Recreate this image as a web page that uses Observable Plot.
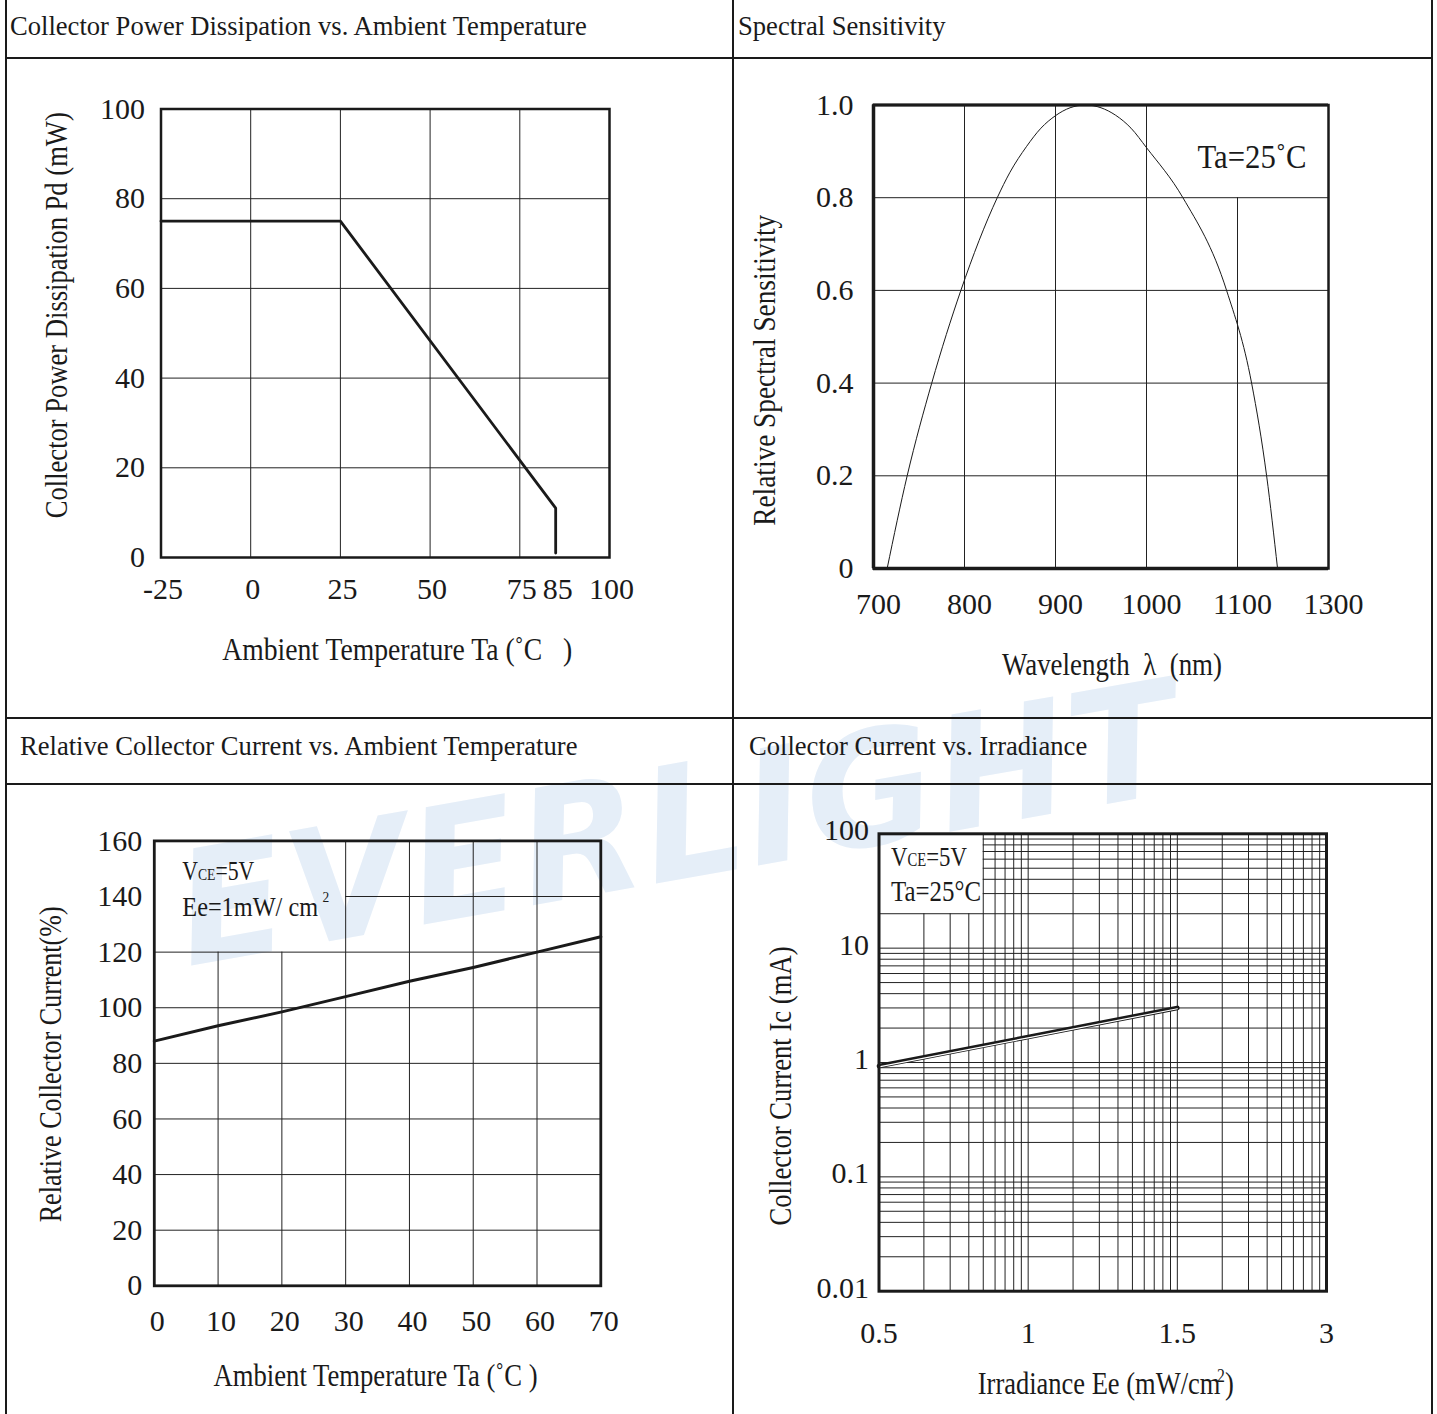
<!DOCTYPE html>
<html>
<head>
<meta charset="utf-8">
<script src="https://cdn.jsdelivr.net/npm/d3@7"></script>
<script src="https://cdn.jsdelivr.net/npm/@observablehq/plot@0.6"></script>
<style>
  html, body { margin: 0; padding: 0; background: #fff; }
  #page { position: relative; width: 1437px; height: 1414px; overflow: hidden;
          font-family: "Liberation Serif", "Times New Roman", serif; color: #1a1a1a; }
  .hl { position: absolute; height: 2px; background: #1a1a1a; }
  .vl { position: absolute; width: 2px; background: #1a1a1a; }
  .title { position: absolute; font-size: 26.6px; line-height: 1; white-space: nowrap; }
  .chart { position: absolute; }
  #wm { position: absolute; left: 0; top: 0; }
</style>
</head>
<body>
<div id="page">
  <svg id="wm" width="1437" height="1414">
    <text x="188" y="966" transform="rotate(-10 188 966)" font-family="DejaVu Sans" font-weight="bold"
          font-style="italic" font-size="158" letter-spacing="3" fill="#e5eef8">EVERLIGHT</text>
  </svg>
  <div class="vl" style="left:5px;top:0;height:1414px"></div>
  <div class="vl" style="left:732px;top:0;height:1414px"></div>
  <div class="vl" style="left:1431px;top:0;height:1414px"></div>
  <div class="hl" style="left:5px;top:57px;width:1428px"></div>
  <div class="hl" style="left:5px;top:717px;width:1428px"></div>
  <div class="hl" style="left:5px;top:783px;width:1428px"></div>
  <div class="title" style="left:10px;top:12.5px">Collector Power Dissipation vs. Ambient Temperature</div>
  <div class="title" style="left:738px;top:12.5px">Spectral Sensitivity</div>
  <div class="title" style="left:20px;top:732.5px">Relative Collector Current vs. Ambient Temperature</div>
  <div class="title" style="left:749px;top:732.5px">Collector Current vs. Irradiance</div>
  <div class="chart" id="c1" style="left:8px;top:60px"></div>
  <div class="chart" id="c2" style="left:734px;top:60px"></div>
  <div class="chart" id="c3" style="left:8px;top:786px"></div>
  <div class="chart" id="c4" style="left:734px;top:786px"></div>
</div>
<script>
// ---------- Chart 1: Collector Power Dissipation vs. Ambient Temperature ----------
const pdTemp = [-25, 25, 85, 85];
const pdPower = [75, 75, 11, 1];
const pdXTicks = [-25, 0, 25, 50, 75, 85, 100];
const pdXTickLabels = ["-25", "0", "25", "50", "75", "85", "100"];
const pdXGrid = [0, 25, 50, 75];
const pdYTicks = [0, 20, 40, 60, 80, 100];
const pdYTickLabels = ["0", "20", "40", "60", "80", "100"];
const pdYGrid = [20, 40, 60, 80];
const pdXTitle = "Ambient Temperature Ta (\u02DAC\u00A0\u00A0\u00A0)";
const pdYTitle = "Collector Power Dissipation Pd (mW)";

// ---------- Chart 2: Spectral Sensitivity ----------
const specWavelength = [715, 737, 764, 796, 836, 850, 868, 884, 900, 916, 933, 950, 966, 983, 1000, 1040, 1088, 1115.5, 1132, 1144];
const specSensitivity = [0, 0.2, 0.4, 0.6, 0.8, 0.855, 0.91, 0.95, 0.977, 0.994, 1.0, 0.994, 0.978, 0.95, 0.908, 0.8, 0.6, 0.4, 0.2, 0];
const specXTicks = [700, 800, 900, 1000, 1100, 1200];
const specXTickLabels = ["700", "800", "900", "1000", "1100", "1300"];
const specYTicks = [0, 0.2, 0.4, 0.6, 0.8, 1.0];
const specYTickLabels = ["0", "0.2", "0.4", "0.6", "0.8", "1.0"];
const specXGrid = [800, 900, 1000, 1100];
const specYGrid = [0.2, 0.4, 0.6, 0.8];
const specNoteCorner = {x: 1100, y: 0.8};
const specNote = "Ta=25\u02DAC";
const specXTitle = "Wavelength\u00A0\u00A0\u03BB\u00A0\u00A0(nm)";
const specYTitle = "Relative Spectral Sensitivity";

// ---------- Chart 3: Relative Collector Current vs. Ambient Temperature ----------
const rcTemp = [0, 10, 20, 30, 40, 50, 60, 70];
const rcCurrent = [88, 93.5, 98.5, 104, 109.5, 114.5, 120, 125.5];
const rcXTicks = [0, 10, 20, 30, 40, 50, 60, 70];
const rcYTicks = [0, 20, 40, 60, 80, 100, 120, 140, 160];
const rcXGrid = [10, 20, 30, 40, 50, 60];
const rcYGrid = [20, 40, 60, 80, 100, 120, 140];
const rcNoteCorner = {x: 30, y: 120};
const rcNote1 = "VCE=5V";
const rcNote2 = "Ee=1mW/ cm2";
const rcXTitle = "Ambient Temperature Ta (\u02DAC\u00A0)";
const rcYTitle = "Relative Collector Current(%)";

// ---------- Chart 4: Collector Current vs. Irradiance ----------
const irrTickValues = [0.5, 1, 1.5, 3];
const irrTickLabels = ["0.5", "1", "1.5", "3"];
const irrEe = [0.5, 1.0, 1.5];
const irrIc = [0.93, 1.67, 3.0];
const icTicks = [0.01, 0.1, 1, 10, 100];
const icTickLabels = ["0.01", "0.1", "1", "10", "100"];
const irrNoteCorner = {x: 5, y: 20};   // in the chart's log-grid units
const irrNote1 = "VCE=5V";
const irrNote2 = "Ta=25\u00B0C";
const irrXTitle = "Irradiance Ee (mW/cm2)";
const irrYTitle = "Collector Current Ic (mA)";

// ---------- shared ----------
const SERIF = '"Liberation Serif", "Times New Roman", serif';
const INK = "#1a1a1a";
const GRID = "#222";

function labelFor(ticks, labels) {
  return d => labels[ticks.findIndex(t => Math.abs(t - d) < 1e-9 * Math.max(1, Math.abs(t)))];
}
function findText(svg, str) {
  return Array.from(svg.querySelectorAll("text")).find(t => t.textContent === str);
}
function condense(el, len) {
  if (!el) return;
  el.setAttribute("textLength", len);
  el.setAttribute("lengthAdjust", "spacingAndGlyphs");
}
function rich(svg, str, parts) {
  const t = findText(svg, str);
  if (!t) return null;
  t.textContent = "";
  for (const p of parts) {
    const s = document.createElementNS("http://www.w3.org/2000/svg", "tspan");
    s.textContent = p.text;
    if (p.size) s.setAttribute("font-size", p.size);
    if (p.dx) s.setAttribute("dx", p.dx);
    if (p.dy) s.setAttribute("dy", p.dy);
    t.appendChild(s);
  }
  return t;
}
function titles(xTitle, yTitle, o) {
  return [
    Plot.text([xTitle], {text: d => d, frameAnchor: "bottom", textAnchor: "middle", lineAnchor: "middle",
      dx: o.xdx, dy: o.xdy, fontSize: o.size, fill: INK}),
    Plot.text([yTitle], {text: d => d, frameAnchor: "left", textAnchor: "middle", lineAnchor: "middle",
      rotate: -90, dx: o.ydx, dy: o.ydy, fontSize: o.size, fill: INK})
  ];
}

// ---------- Chart 1 ----------
{
  const data = pdTemp.map((t, i) => ({t, p: pdPower[i]}));
  const svg = Plot.plot({
    width: 724, height: 656,
    marginLeft: 152.5, marginRight: 123, marginTop: 48.5, marginBottom: 159,
    style: {background: "transparent", fontFamily: SERIF, fontSize: "30px", color: INK, overflow: "visible"},
    x: {domain: [-25, 100]},
    y: {domain: [0, 100]},
    marks: [
      Plot.ruleX(pdXGrid, {x: d => d, stroke: GRID, strokeWidth: 1}),
      Plot.ruleY(pdYGrid, {y: d => d, stroke: GRID, strokeWidth: 1}),
      Plot.axisX({ticks: pdXTicks, tickFormat: labelFor(pdXTicks, pdXTickLabels), tickSize: 0, tickPadding: 20, label: null, fill: INK, dx: 2}),
      Plot.axisY({ticks: pdYTicks, tickFormat: labelFor(pdYTicks, pdYTickLabels), tickSize: 0, tickPadding: 16, label: null, fill: INK}),
      Plot.line(data, {x: "t", y: "p", stroke: INK, strokeWidth: 2.8}),
      Plot.frame({stroke: INK, strokeWidth: 2.5}),
      ...titles(pdXTitle, pdYTitle, {xdx: 12, xdy: 93, ydx: -104, ydy: -18, size: 31})
    ]
  });
  condense(findText(svg, pdXTitle), 350);
  condense(findText(svg, pdYTitle), 406);
  document.getElementById("c1").appendChild(svg);
}

// ---------- Chart 2 ----------
{
  const data = specWavelength.map((w, i) => ({w, s: specSensitivity[i]}));
  const svg = Plot.plot({
    width: 697, height: 656,
    marginLeft: 139, marginRight: 103, marginTop: 44.5, marginBottom: 148,
    style: {background: "transparent", fontFamily: SERIF, fontSize: "30px", color: INK, overflow: "visible"},
    x: {domain: [700, 1200]},
    y: {domain: [0, 1]},
    marks: [
      Plot.ruleX(specXGrid, {x: d => d, y1: 0, y2: d => d >= specNoteCorner.x ? specNoteCorner.y : 1, stroke: GRID, strokeWidth: 1}),
      Plot.ruleY(specYGrid, {y: d => d, stroke: GRID, strokeWidth: 1}),
      Plot.axisX({ticks: specXTicks, tickFormat: labelFor(specXTicks, specXTickLabels), tickSize: 0, tickPadding: 24, label: null, fill: INK, dx: 5}),
      Plot.axisY({ticks: specYTicks, tickFormat: labelFor(specYTicks, specYTickLabels), tickSize: 0, tickPadding: 20, label: null, fill: INK}),
      Plot.line(data, {x: "w", y: "s", stroke: INK, strokeWidth: 1, curve: "monotone-x"}),
      Plot.frame({stroke: INK, strokeWidth: 2.5}),
      Plot.ruleX([700], {stroke: INK, strokeWidth: 3.5}),
      Plot.ruleY([0], {stroke: INK, strokeWidth: 3.5}),
      Plot.ruleY([1], {stroke: INK, strokeWidth: 3}),
      Plot.text([specNote], {text: d => d, frameAnchor: "top-right", textAnchor: "end", lineAnchor: "bottom",
        dx: -22, dy: 62.5, fontSize: 33, fill: INK}),
      ...titles(specXTitle, specYTitle, {xdx: 11, xdy: 97, ydx: -108, ydy: 33.5, size: 31})
    ]
  });
  condense(findText(svg, specXTitle), 220);
  condense(findText(svg, specYTitle), 311);
  condense(findText(svg, specNote), 109);
  document.getElementById("c2").appendChild(svg);
}

// ---------- Chart 3 ----------
{
  const data = rcTemp.map((t, i) => ({t, c: rcCurrent[i]}));
  const svg = Plot.plot({
    width: 724, height: 628,
    marginLeft: 145.8, marginRight: 131.7, marginTop: 54.4, marginBottom: 128.7,
    style: {background: "transparent", fontFamily: SERIF, fontSize: "30px", color: INK, overflow: "visible"},
    x: {domain: [0, 70]},
    y: {domain: [0, 160]},
    marks: [
      Plot.ruleX(rcXGrid, {x: d => d, y1: 0, y2: d => d < rcNoteCorner.x ? rcNoteCorner.y : 160, stroke: GRID, strokeWidth: 1}),
      Plot.ruleY(rcYGrid, {y: d => d, x1: d => d > rcNoteCorner.y ? rcNoteCorner.x : 0, x2: 70, stroke: GRID, strokeWidth: 1}),
      Plot.axisX({ticks: rcXTicks, tickSize: 0, tickPadding: 24, label: null, fill: INK, dx: 3}),
      Plot.axisY({ticks: rcYTicks, tickSize: 0, tickPadding: 12, label: null, fill: INK}),
      Plot.line(data, {x: "t", y: "c", stroke: INK, strokeWidth: 3}),
      Plot.frame({stroke: INK, strokeWidth: 2.8}),
      Plot.text([rcNote1], {text: d => d, frameAnchor: "top-left", textAnchor: "start", lineAnchor: "bottom",
        dx: 28, dy: 38.6, fontSize: 27, fill: INK}),
      Plot.text([rcNote2], {text: d => d, frameAnchor: "top-left", textAnchor: "start", lineAnchor: "bottom",
        dx: 28, dy: 74.6, fontSize: 27, fill: INK}),
      ...titles(rcXTitle, rcYTitle, {xdx: -2, xdy: 89.7, ydx: -104, ydy: 1, size: 32})
    ]
  });
  condense(findText(svg, rcXTitle), 324);
  condense(findText(svg, rcYTitle), 316);
  const n1 = rich(svg, rcNote1, [{text: "V"}, {text: "CE", size: 17}, {text: "=5V"}]);
  condense(n1, 72);
  const n2 = rich(svg, rcNote2, [{text: "Ee=1mW/ cm"}, {text: "2", size: 15, dx: 5, dy: -14}]);
  condense(n2, 147);
  document.getElementById("c3").appendChild(svg);
}

// ---------- Chart 4 ----------
{
  // the printed grid spans one log decade between consecutive labelled irradiance ticks
  const eeIndex = d3.scaleLinear().domain(irrTickValues).range(irrTickValues.map((_, i) => i));
  const eeToGrid = ee => 10 ** eeIndex(ee);
  const gridTicks = irrTickValues.map(eeToGrid);
  const gx0 = gridTicks[0], gx1 = gridTicks[gridTicks.length - 1];
  const gy0 = icTicks[0], gy1 = icTicks[icTicks.length - 1];
  const xMinor = d3.scaleLog().domain([gx0, gx1]).ticks().filter(v => v > gx0 * 1.001 && v < gx1 * 0.999);
  const yMinor = d3.scaleLog().domain([gy0, gy1]).ticks().filter(v => v > gy0 * 1.001 && v < gy1 * 0.999);
  const data = irrEe.map((ee, i) => ({g: eeToGrid(ee), ic: irrIc[i]}));
  const svg = Plot.plot({
    width: 697, height: 628,
    marginLeft: 144.5, marginRight: 105, marginTop: 47.3, marginBottom: 123.3,
    style: {background: "transparent", fontFamily: SERIF, fontSize: "30px", color: INK, overflow: "visible"},
    x: {type: "log", domain: [gx0, gx1]},
    y: {type: "log", domain: [gy0, gy1]},
    marks: [
      Plot.ruleX(xMinor, {x: d => d, y1: gy0, y2: d => d < irrNoteCorner.x * 0.999 ? irrNoteCorner.y : gy1, stroke: GRID, strokeWidth: 1}),
      Plot.ruleY(yMinor, {y: d => d, x1: d => d > irrNoteCorner.y * 1.001 ? irrNoteCorner.x : gx0, x2: gx1, stroke: GRID, strokeWidth: 1}),
      Plot.axisX({ticks: gridTicks, tickFormat: labelFor(gridTicks, irrTickLabels), tickSize: 0, tickPadding: 30, label: null, fill: INK}),
      Plot.axisY({ticks: icTicks, tickFormat: labelFor(icTicks, icTickLabels), tickSize: 0, tickPadding: 10, label: null, fill: INK, dy: -3}),
      Plot.line(data, {x: "g", y: "ic", stroke: INK, strokeWidth: 4.6, strokeLinecap: "round"}),
      Plot.line(data, {x: "g", y: "ic", stroke: "white", strokeWidth: 1.2, dy: 0.8}),
      Plot.frame({stroke: INK, strokeWidth: 3}),
      Plot.text([irrNote1], {text: d => d, frameAnchor: "top-left", textAnchor: "start", lineAnchor: "bottom",
        dx: 12, dy: 31.7, fontSize: 28, fill: INK}),
      Plot.text([irrNote2], {text: d => d, frameAnchor: "top-left", textAnchor: "start", lineAnchor: "bottom",
        dx: 12, dy: 66.7, fontSize: 30, fill: INK}),
      ...titles(irrXTitle, irrYTitle, {xdx: 3, xdy: 93, ydx: -98.5, ydy: 23.5, size: 32})
    ]
  });
  condense(findText(svg, irrYTitle), 279);
  condense(findText(svg, irrNote2), 90);
  const n1 = rich(svg, irrNote1, [{text: "V"}, {text: "CE", size: 18}, {text: "=5V"}]);
  condense(n1, 76);
  const xt = rich(svg, irrXTitle, [{text: "Irradiance Ee (mW/cm"}, {text: "2", size: 19, dx: -4, dy: -12}, {text: ")", dy: 12}]);
  condense(xt, 256);
  document.getElementById("c4").appendChild(svg);
}
</script>
</body>
</html>
